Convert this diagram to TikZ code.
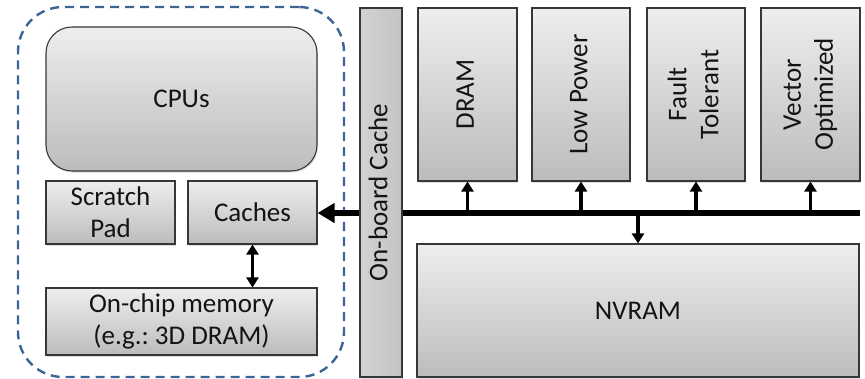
\documentclass[tikz,border=0pt]{standalone}
\usepackage{fontspec}
\setmainfont{Carlito}
\usetikzlibrary{arrows.meta,shadows}
\frenchspacing

\definecolor{boxtop}{RGB}{238,238,238}
\definecolor{boxbot}{RGB}{188,188,188}
\definecolor{boxline}{RGB}{55,55,55}
\definecolor{frameblue}{RGB}{62,100,150}
\definecolor{inktext}{RGB}{20,20,20}

\tikzset{
  unitbox/.style={draw=boxline, line width=1.1pt, top color=boxtop, bottom color=boxbot,
    inner sep=0pt, align=center, text=inktext,
    font=\fontsize{27}{32}\selectfont,
    drop shadow={shadow xshift=1.2pt, shadow yshift=-1.5pt, opacity=0.25}},
  sidebox/.style={unitbox, left color={rgb,255:red,210;green,210;blue,210}, right color={rgb,255:red,196;green,196;blue,196}},
  chipframe/.style={draw=frameblue, line width=2.4pt, dash pattern=on 9pt off 6pt, rounded corners=45pt},
  bus/.style={line width=6pt, -{Triangle[length=17pt,width=19pt]}},
  tap/.style={line width=3.5pt, -{Triangle[length=10pt,width=12pt]}},
  duplex/.style={line width=3.5pt, {Triangle[length=10pt,width=12pt]}-{Triangle[length=10pt,width=12pt]}},
}

\newcommand{\uptext}[1]{\rotatebox{90}{\begin{tabular}{@{}c@{}}#1\end{tabular}}}

\begin{document}
\begin{tikzpicture}[x=1pt,y=-1pt]
  \useasboundingbox (0,0) rectangle (865,378);

  % on-chip side
  \node[chipframe, minimum width=326pt, minimum height=370pt] (chip) at (181,192) {};
  \node[unitbox, rounded corners=26pt, minimum width=271pt, minimum height=144pt] (cpu) at (181.5,99) {CPUs};
  \node[unitbox, minimum width=129pt, minimum height=63pt] (scratch) at (110.5,212.5) {Scratch\\Pad};
  \node[unitbox, minimum width=129pt, minimum height=63pt] (caches) at (252.5,212.5) {Caches};
  \node[unitbox, minimum width=271pt, minimum height=67pt] (onchip) at (181.5,321.5) {On-chip memory\\(e.g.: 3D DRAM)};
  \draw[duplex] (caches.south) -- (caches.south |- onchip.north);

  % memory bus
  \coordinate (busend) at (860,213);
  \draw[bus] (busend) -- (busend -| caches.east);

  % off-chip memories
  \node[sidebox, minimum width=42pt, minimum height=369pt] (onboard) at (381,192.5) {\uptext{On-board Cache}};
  \node[unitbox, minimum width=99pt, minimum height=173pt] (dram) at (467.5,94.5) {\uptext{DRAM}};
  \node[unitbox, minimum width=98pt, minimum height=173pt] (lowpower) at (581,94.5) {\uptext{Low Power}};
  \node[unitbox, minimum width=98pt, minimum height=173pt] (fault) at (696,94.5) {\uptext{Fault\\Tolerant}};
  \node[unitbox, minimum width=99pt, minimum height=173pt] (vector) at (810.5,94.5) {\uptext{Vector\\Optimized}};
  \node[unitbox, minimum width=442pt, minimum height=133pt] (nvram) at (638,310.5) {NVRAM};

  % taps from the bus
  \draw[tap] (dram.south |- busend) -- (dram.south);
  \draw[tap] (lowpower.south |- busend) -- (lowpower.south);
  \draw[tap] (fault.south |- busend) -- (fault.south);
  \draw[tap] (vector.south |- busend) -- (vector.south);
  \draw[tap] (nvram.north |- busend) -- (nvram.north);
\end{tikzpicture}
\end{document}
